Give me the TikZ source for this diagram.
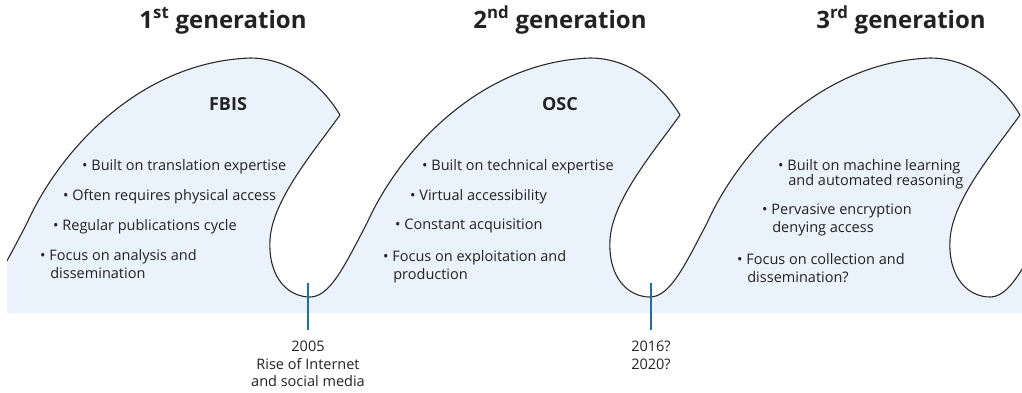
\documentclass[tikz,border=0pt]{standalone}
\usepackage{fontspec}
\setmainfont{Open Sans}
\definecolor{wavefill}{HTML}{EAF2FB}
\definecolor{waveline}{HTML}{2B2B2B}
\definecolor{inkgray}{HTML}{222222}
\definecolor{tickblue}{HTML}{1F6FA8}
\tikzset{
  gentitle/.style={font=\bfseries\fontsize{24}{28}\selectfont, text=inkgray, anchor=base, inner sep=0pt},
  orgname/.style={font=\bfseries\fontsize{18}{22}\selectfont, text=inkgray, anchor=base, inner sep=0pt},
  bullet item/.style={font=\fontsize{14.5}{18}\selectfont, text=inkgray, anchor=north west, align=left, inner sep=0pt},
  datelabel/.style={font=\fontsize{14.5}{17.5}\selectfont, text=inkgray, anchor=north, align=center, inner sep=0pt},
  wave edge/.style={draw=waveline, line width=1.1pt, line join=round},
  tickmark/.style={draw=tickblue, line width=2pt},
}
\newcommand{\hang}{\hspace*{0.7em}}
% one continuous outline of the three waves
\newcommand{\waveoutline}{%
  (-30,297)
  \foreach \s in {0,340,680}{
    .. controls ({\s-10},297) and ({\s+5},265) .. ({\s+27},223)
    .. controls ({\s+60},150) and ({\s+140},62) .. ({\s+250},58)
    .. controls ({\s+290},58) and ({\s+322},85) .. ({\s+340},115)
    .. controls ({\s+315},150) and ({\s+272},200) .. ({\s+270},240)
    .. controls ({\s+268},280) and ({\s+290},297) .. ({\s+310},297)
  }
  .. controls (1010,297) and (1025,265) .. (1047,223)}
\begin{document}
\begin{tikzpicture}[x=1pt,y=-1pt]
\useasboundingbox (0,0) rectangle (1022,392);

\begin{scope}
  \clip (7,0) rectangle (1022,392);
  \fill[wavefill] \waveoutline -- (1047,313) -- (-30,313) -- cycle;
  \path[wave edge] \waveoutline;
\end{scope}

% generation headings
\node[gentitle] (g1) at (223,28) {1\textsuperscript{st} generation};
\node[gentitle] (g2) at (560,28) {2\textsuperscript{nd} generation};
\node[gentitle] (g3) at (901,28) {3\textsuperscript{rd} generation};

% organisations
\node[orgname] (fbis) at (228,110) {FBIS};
\node[orgname] (osc) at (560,110) {OSC};

% first generation
\node[bullet item] (a1) at (82,159) {\textbullet\ Built on translation expertise};
\node[bullet item] (a2) at (63,189) {\textbullet\ Often requires physical access};
\node[bullet item] (a3) at (53,219) {\textbullet\ Regular publications cycle};
\node[bullet item] (a4) at (40,249) {\textbullet\ Focus on analysis and\\\hang dissemination};

% second generation
\node[bullet item] (b1) at (422,159) {\textbullet\ Built on technical expertise};
\node[bullet item] (b2) at (410,189) {\textbullet\ Virtual accessibility};
\node[bullet item] (b3) at (395,219) {\textbullet\ Constant acquisition};
\node[bullet item] (b4) at (383,250) {\textbullet\ Focus on exploitation and\\\hang production};

% third generation
\node[bullet item] (c1) at (778,159) {\textbullet\ Built on machine learning\\[-3pt]\hang and automated reasoning};
\node[bullet item] (c2) at (762,204) {\textbullet\ Pervasive encryption\\\hang denying access};
\node[bullet item] (c3) at (737,253) {\textbullet\ Focus on collection and\\\hang dissemination?};

% transition markers
\coordinate (t1top) at (308,283);
\coordinate (t1bot) at (308,330);
\coordinate (t2top) at (651,283);
\coordinate (t2bot) at (651,330);
\draw[tickmark] (t1top) -- (t1bot);
\draw[tickmark] (t2top) -- (t2bot);
\node[datelabel] (d1) at (308,341) {2005\\Rise of Internet\\and social media};
\node[datelabel] (d2) at (651,341) {2016?\\2020?};
\end{tikzpicture}
\end{document}
